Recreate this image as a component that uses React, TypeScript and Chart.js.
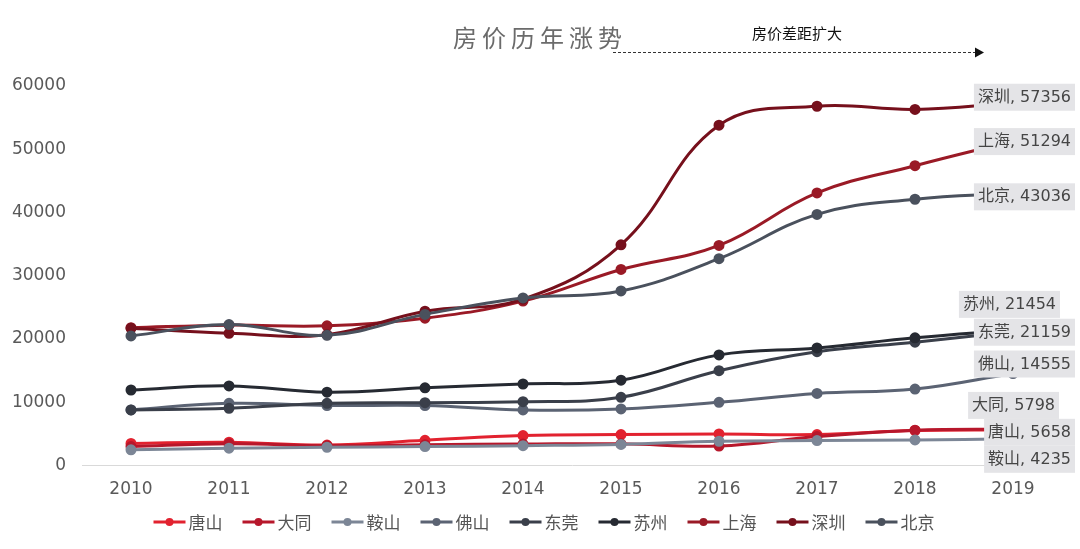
import React, { useEffect, useRef } from "react";
import { Chart, registerables } from "chart.js";

Chart.register(...registerables);

const years = ["2010", "2011", "2012", "2013", "2014", "2015", "2016", "2017", "2018", "2019"];
const cities = ["唐山", "大同", "鞍山", "佛山", "东莞", "苏州", "上海", "深圳", "北京"];

const tangshan = [3500, 3700, 3250, 4000, 4750, 4900, 5000, 4900, 5550, 5658];
const datong = [3000, 3450, 3150, 3300, 3400, 3450, 3100, 4600, 5600, 5798];
const anshan = [2500, 2750, 2900, 3000, 3150, 3350, 3850, 3950, 4050, 4235];
const foshan = [8800, 9850, 9500, 9500, 8800, 8950, 10000, 11400, 12100, 14555];
const dongguan = [8800, 9050, 9850, 9950, 10100, 10800, 15000, 18000, 19500, 21159];
const suzhou = [11950, 12600, 11600, 12300, 12900, 13500, 17500, 18600, 20200, 21454];
const shanghai = [21800, 22200, 22100, 23300, 26000, 31000, 34800, 43100, 47400, 51294];
const shenzhen = [21700, 20900, 20700, 24400, 26300, 34900, 53800, 56800, 56300, 57356];
const beijing = [20500, 22300, 20600, 23900, 26500, 27600, 32700, 39700, 42100, 43036];

const seriesValues = [tangshan, datong, anshan, foshan, dongguan, suzhou, shanghai, shenzhen, beijing];
const colors = ["#e2222f", "#b7172b", "#7c8696", "#5b6373", "#3a3f4a", "#262a32", "#9a1a26", "#76101c", "#4a515d"];

const yMax = 60000;
const yStep = 10000;

const titleText = "房价历年涨势";
const noteText = "房价差距扩大";

// end-label placement styles (offsets from the last point)
const labelDy = [2, -24, 20, -10, 0, -26, 0, -6, 3];
const labelRight = [62, 46, 62, 62, 62, 47, 62, 62, 62];

const FONT = "'DejaVu Sans', 'Noto Sans CJK SC', sans-serif";
const CJK = "'Noto Sans CJK SC', sans-serif";

const overlayPlugin = {
  id: "overlay",
  afterDatasetsDraw(chart: any) {
    const ctx = chart.ctx;
    const n = chart.data.datasets.length;
    ctx.save();
    ctx.font = `16px ${FONT}`;
    ctx.textBaseline = "middle";
    for (let i = 0; i < n; i++) {
      const meta = chart.getDatasetMeta(i);
      const pts = meta.data;
      const pt = pts[pts.length - 1];
      const ds = chart.data.datasets[i];
      const val = ds.data[ds.data.length - 1];
      const text = `${ds.label}, ${val}`;
      const w = ctx.measureText(text).width + 8;
      const right = pt.x + labelRight[i];
      const cy = pt.y + labelDy[i];
      ctx.fillStyle = "#e4e4e7";
      ctx.fillRect(right - w, cy - 13, w, 27);
      ctx.fillStyle = "#454545";
      ctx.textAlign = "left";
      ctx.fillText(text, right - w + 4, cy + 1);
    }
    ctx.restore();
  },
  afterDraw(chart: any) {
    const ctx = chart.ctx;
    const xs = chart.scales.x;
    ctx.save();
    // title
    ctx.font = `24px ${CJK}`;
    (ctx as any).letterSpacing = "5px";
    ctx.fillStyle = "#6b6b6b";
    ctx.textBaseline = "middle";
    ctx.textAlign = "left";
    const tw = ctx.measureText(titleText).width;
    ctx.fillText(titleText, 540 - tw / 2, 38);
    (ctx as any).letterSpacing = "0px";
    // note
    ctx.font = `15px ${CJK}`;
    ctx.fillStyle = "#111";
    ctx.textAlign = "center";
    ctx.fillText(noteText, 797, 33);
    // dashed arrow
    const x0 = xs.getPixelForValue(5) - 8;
    const x1 = xs.getPixelForValue(9) - 38;
    ctx.strokeStyle = "#333";
    ctx.lineWidth = 1;
    ctx.setLineDash([3, 2]);
    ctx.beginPath();
    ctx.moveTo(x0, 52.5);
    ctx.lineTo(x1, 52.5);
    ctx.stroke();
    ctx.setLineDash([]);
    ctx.fillStyle = "#111";
    ctx.beginPath();
    ctx.moveTo(x1, 47.5);
    ctx.lineTo(x1 + 9, 52.5);
    ctx.lineTo(x1, 57.5);
    ctx.closePath();
    ctx.fill();
    // legend
    ctx.font = `17px ${CJK}`;
    ctx.textAlign = "left";
    ctx.textBaseline = "middle";
    const markerW = 32;
    const gapText = 3;
    const gapItem = 20;
    const items = chart.data.datasets.map((d: any) => ({
      label: d.label,
      color: d.borderColor,
      w: markerW + gapText + ctx.measureText(d.label).width,
    }));
    const total = items.reduce((s: number, it: any) => s + it.w, 0) + gapItem * (items.length - 1);
    let x = 544 - total / 2;
    const ly = 522;
    for (const it of items) {
      ctx.strokeStyle = it.color;
      ctx.lineWidth = 3;
      ctx.beginPath();
      ctx.moveTo(x, ly);
      ctx.lineTo(x + markerW, ly);
      ctx.stroke();
      ctx.fillStyle = it.color;
      ctx.beginPath();
      ctx.arc(x + markerW / 2, ly, 4, 0, Math.PI * 2);
      ctx.fill();
      ctx.fillStyle = "#555";
      ctx.fillText(it.label, x + markerW + gapText, ly + 1);
      x += it.w + gapItem;
    }
    ctx.restore();
  },
};

export default function App() {
  const ref = useRef<HTMLCanvasElement | null>(null);
  useEffect(() => {
    if (!ref.current) return;
    const chart = new Chart(ref.current, {
      type: "line",
      data: {
        labels: years,
        datasets: cities.map((c, i) => ({
          label: c,
          data: seriesValues[i],
          borderColor: colors[i],
          backgroundColor: colors[i],
          pointBackgroundColor: colors[i],
          pointBorderColor: colors[i],
          pointRadius: 4,
          borderWidth: 3,
          tension: 0.4,
          fill: false,
          order: cities.length - i,
        })),
      },
      options: {
        animation: false,
        responsive: true,
        maintainAspectRatio: false,
        layout: { padding: { left: 10, right: 18, top: 86, bottom: 43 } },
        plugins: {
          legend: { display: false },
          title: { display: false },
          tooltip: { enabled: false },
        },
        scales: {
          x: {
            offset: true,
            grid: { display: false },
            border: { display: true, color: "#d9d9d9", width: 1 },
            ticks: { color: "#595959", font: { size: 17, family: FONT }, padding: 6, maxRotation: 0 },
          },
          y: {
            min: 0,
            max: yMax,
            grid: { display: false },
            border: { display: false },
            afterFit: (s: any) => {
              s.width = 72;
            },
            ticks: {
              stepSize: yStep,
              color: "#595959",
              font: { size: 17, family: FONT },
              padding: 8,
              callback: (v: any) => String(v),
            },
          },
        },
      },
      plugins: [overlayPlugin],
    });
    return () => chart.destroy();
  }, []);
  return (
    <div style={{ position: "absolute", left: 0, top: 0, width: 1080, height: 549, background: "#fff" }}>
      <canvas ref={ref} />
    </div>
  );
}
